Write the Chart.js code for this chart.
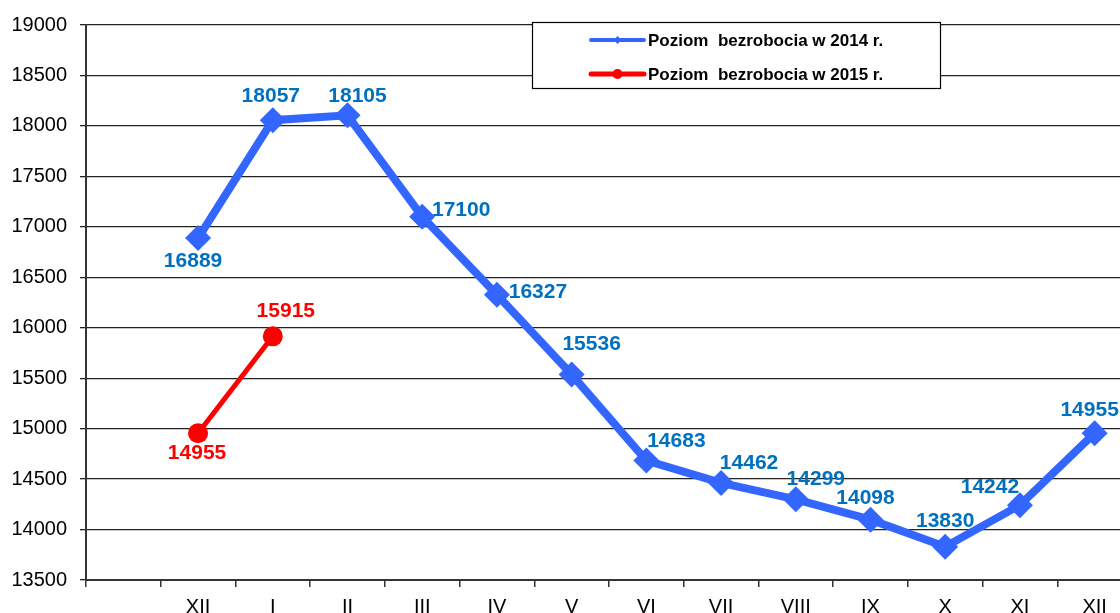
<!DOCTYPE html>
<html>
<head>
<meta charset="utf-8">
<script src="https://cdn.jsdelivr.net/npm/chart.js@4"></script>
<style>
  html, body { margin: 0; padding: 0; background: #fff; overflow: hidden; }
  #wrap { width: 1120px; height: 613px; overflow: hidden; position: relative; }
  canvas { position: absolute; left: 0; top: 0; }
</style>
</head>
<body>
<div id="wrap"><canvas id="chart" width="1145" height="640"></canvas></div>
<script>
// months (first slot is empty, as in the original sheet)
var months = ['', 'XII', 'I', 'II', 'III', 'IV', 'V', 'VI', 'VII', 'VIII', 'IX', 'X', 'XI', 'XII'];
var level2014 = [null, 16889, 18057, 18105, 17100, 16327, 15536, 14683, 14462, 14299, 14098, 13830, 14242, 14955];
var level2015 = [null, 14955, 15915, null, null, null, null, null, null, null, null, null, null, null];
var seriesNames = ['Poziom  bezrobocia w 2014 r.', 'Poziom  bezrobocia w 2015 r.'];

// where each value label sits relative to its point (px)
var labelShift = [
  [null, [-5, 23], [-2, -24], [10, -19], [39, -7], [41, -3], [20, -30], [30, -19], [28, -20], [20, -20], [-5, -21], [0, -25], [-30, -18], [-5, -23]],
  [null, [-1, 20], [13, -25]]
];
var labelColors = ['#0070C0', '#FF0000'];

var valueLabels = {
  id: 'valueLabels',
  afterDatasetsDraw: function(chart) {
    var ctx = chart.ctx;
    ctx.save();
    ctx.font = 'bold 21px "Liberation Sans", Arial, sans-serif';
    ctx.textAlign = 'center';
    ctx.textBaseline = 'middle';
    chart.data.datasets.forEach(function(ds, i) {
      var meta = chart.getDatasetMeta(i);
      meta.data.forEach(function(pt, j) {
        var v = ds.data[j];
        if (v === null || v === undefined) return;
        var s = (labelShift[i] && labelShift[i][j]) || [0, -22];
        ctx.fillStyle = labelColors[i];
        ctx.fillText(String(v), pt.x + s[0], pt.y + s[1]);
      });
    });
    ctx.restore();
  }
};

var boxLegend = {
  id: 'boxLegend',
  afterDraw: function(chart) {
    var ctx = chart.ctx;
    var x = 532, y = 22, w = 408, h = 66;
    ctx.save();
    ctx.fillStyle = '#fff';
    ctx.fillRect(x, y, w, h);
    ctx.strokeStyle = '#000';
    ctx.lineWidth = 1.2;
    ctx.strokeRect(x + 0.5, y + 0.5, w, h);
    ctx.font = 'bold 17px "Liberation Sans", Arial, sans-serif';
    ctx.textBaseline = 'middle';
    chart.data.datasets.forEach(function(ds, i) {
      var cy = y + 18 + i * 34;
      ctx.strokeStyle = ds.borderColor;
      ctx.lineWidth = i === 0 ? 4 : 5;
      ctx.lineCap = 'round';
      ctx.beginPath();
      ctx.moveTo(591, cy);
      ctx.lineTo(644, cy);
      ctx.stroke();
      ctx.fillStyle = ds.borderColor;
      ctx.beginPath();
      if (i === 0) {
        ctx.moveTo(617.5, cy - 4); ctx.lineTo(621.5, cy); ctx.lineTo(617.5, cy + 4); ctx.lineTo(613.5, cy);
      } else {
        ctx.arc(617.5, cy, 5, 0, Math.PI * 2);
      }
      ctx.fill();
      ctx.fillStyle = '#000';
      ctx.fillText(ds.label, 648, cy + 1);
    });
    ctx.restore();
  }
};

new Chart(document.getElementById('chart'), {
  type: 'line',
  data: {
    labels: months,
    datasets: [{
      label: seriesNames[0],
      data: level2014,
      borderColor: '#3366FF',
      backgroundColor: '#3366FF',
      borderWidth: 8,
      pointStyle: 'rectRot',
      pointRadius: 13,
      pointBorderWidth: 0,
      tension: 0
    }, {
      label: seriesNames[1],
      data: level2015,
      borderColor: '#FF0000',
      backgroundColor: '#FF0000',
      borderWidth: 5,
      pointStyle: 'circle',
      pointRadius: 10,
      pointBorderWidth: 0,
      tension: 0
    }]
  },
  options: {
    responsive: false,
    animation: false,
    events: [],
    layout: { padding: { top: 17, right: 0, left: 0, bottom: 0 } },
    plugins: {
      legend: { display: false },
      tooltip: { enabled: false }
    },
    scales: {
      x: {
        offset: true,
        afterFit: function(s) { s.height = 60; },
        grid: {
          offset: true,
          drawOnChartArea: false,
          tickLength: 7,
          color: '#333',
          lineWidth: 1.5
        },
        border: { color: '#333', width: 2 },
        ticks: {
          color: '#000',
          padding: 8,
          font: { family: '"Liberation Sans", Arial, sans-serif', size: 20 },
          maxRotation: 0,
          autoSkip: false
        }
      },
      y: {
        min: 13500,
        max: 19000,
        afterFit: function(s) { s.width = 86; },
        grid: {
          color: '#222',
          lineWidth: 1.3,
          tickLength: 6
        },
        border: { color: '#333', width: 2 },
        ticks: {
          stepSize: 500,
          color: '#000',
          padding: 13,
          font: { family: '"Liberation Sans", Arial, sans-serif', size: 20 },
          callback: function(v) { return String(v); }
        }
      }
    }
  },
  plugins: [valueLabels, boxLegend]
});
</script>
</body>
</html>
